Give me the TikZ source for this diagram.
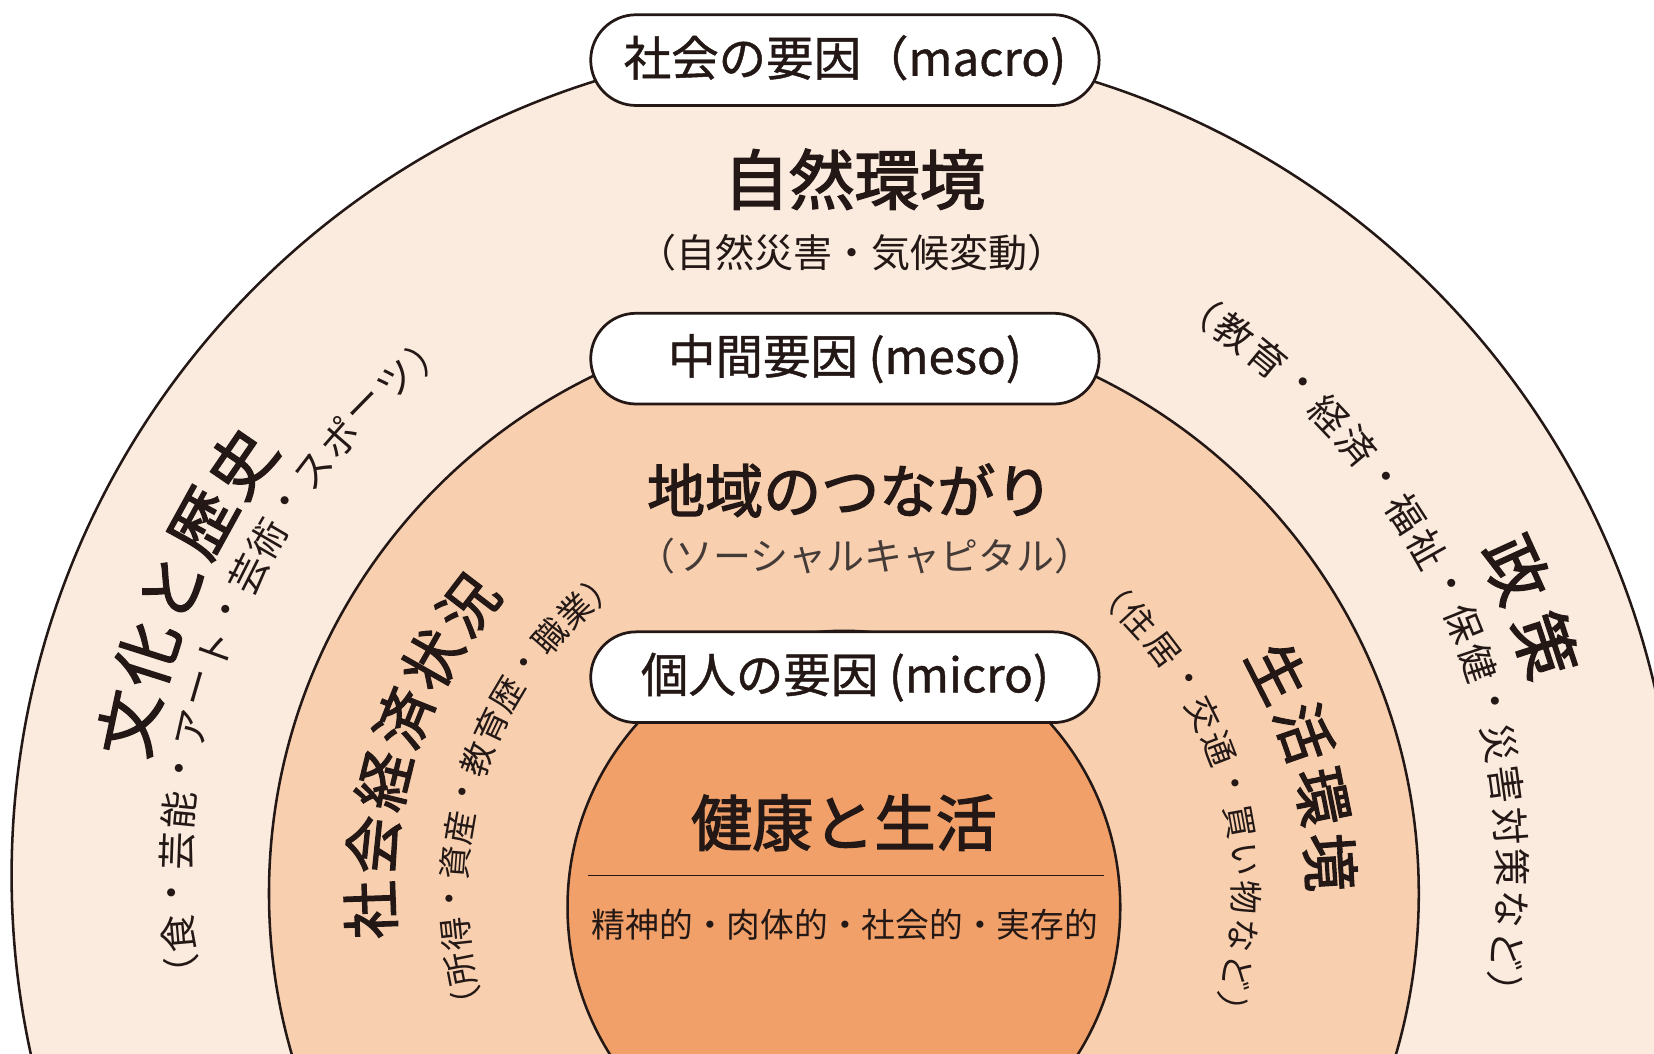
\documentclass[tikz,border=0pt]{standalone}
\usepackage{fontspec}
\newfontfamily\jp{Noto Sans CJK JP}
\newfontfamily\jpm[FakeBold=2.2]{Noto Sans CJK JP}
\newfontfamily\jpp[FakeBold=0.9]{Noto Sans CJK JP}
\definecolor{ink}{HTML}{231815}
\definecolor{ringA}{HTML}{FBEBDE}
\definecolor{ringB}{HTML}{F8D0B0}
\definecolor{ringC}{HTML}{F0A068}
\newcommand\arcword[8]{%
  \foreach \ch [count=\i from 0] in {#8}{%
    \pgfmathsetmacro\ang{#5-\i*(#6)}%
    \node[lbl, font={#7}, rotate=\ang-90] (#1-\i) at ({#2+#4*cos(\ang)},{#3+#4*sin(\ang)}) {\ch};
  }%
}
\begin{document}
\begin{tikzpicture}[x=1pt,y=1pt,
  ring/.style={draw=ink, line width=2.4pt},
  pill/.style={draw=ink, line width=2.6pt, fill=white, rounded corners=43pt,
    minimum width=482pt, minimum height=86pt, inner sep=0pt, text=ink},
  lbl/.style={text=ink, inner sep=0pt},
]
\useasboundingbox (0,0) rectangle (1568,999);
\fill[white] (0,0) rectangle (1568,999);
\begin{scope}
\clip (0,0) rectangle (1568,999);
\draw[ring, fill=ringA] (800,169) circle (789);
\draw[ring, fill=ringB] (800,152) circle (545);
\draw[ring, fill=ringC] (800,139) circle (262);
\end{scope}
\draw[ink, line width=1.3pt] (557,169) -- (1047,169);

\node[pill, font=\jpp\fontsize{45}{45}\selectfont] (macro) at (801,942) {社会の要因（macro)};
\node[pill, font=\jpp\fontsize{45}{45}\selectfont] (meso) at (801,659) {中間要因 (meso)};
\node[pill, font=\jpp\fontsize{45}{45}\selectfont] (micro) at (801,357) {個人の要因 (micro)};

\node[lbl, font=\jpm\fontsize{62}{62}\selectfont] (shizen) at (810,829) {自然環境};
\node[lbl, font=\jp\fontsize{37}{37}\selectfont] (shizensub) at (808,759) {（自然災害・気候変動）};
\node[lbl, font=\jpm\fontsize{55}{55}\selectfont] (chiiki) at (806,534) {地域のつながり};
\node[lbl, font=\jp\fontsize{36}{36}\selectfont, text=ink!85] (social) at (820,472) {（ソーシャルキャピタル）};
\node[lbl, font=\jpm\fontsize{58}{58}\selectfont] (kenko) at (800,219) {健康と生活};
\node[lbl, font=\jp\fontsize{32}{32}\selectfont] (seishin) at (801,122) {精神的・肉体的・社会的・実存的};

\arcword{bunka}{800}{169}{693}{168}{5.6}{\jpm\fontsize{62}{62}\selectfont}{文,化,と,歴,史}
\arcword{bunkasub}{800}{169}{633}{188.5}{3.53}{\jp\fontsize{36}{36}\selectfont}{（,食,・,芸,能,・,ア,ー,ト,・,芸,術,・,ス,ポ,ー,ツ,）}
\arcword{ses}{800}{152}{449}{182}{7.9}{\jpm\fontsize{55}{55}\selectfont}{社,会,経,済,状,況}
\arcword{sessub}{800}{152}{370}{196.5}{5.24}{\jp\fontsize{32}{32}\selectfont}{（,所,得,・,資,産,・,教,育,歴,・,職,業,）}
\arcword{seisaku}{800}{169}{700}{24.5}{6.3}{\jpm\fontsize{62}{62}\selectfont}{政,策}
\arcword{seisakusub}{800}{169}{634}{57.8}{3.57}{\jp\fontsize{36}{36}\selectfont}{（,教,育,・,経,済,・,福,祉,・,保,健,・,災,害,対,策,な,ど,）}
\arcword{kankyo}{800}{152}{462}{27}{7.77}{\jpm\fontsize{55}{55}\selectfont}{生,活,環,境}
\arcword{kankyosub}{800}{152}{381}{48.2}{5.42}{\jp\fontsize{32}{32}\selectfont}{（,住,居,・,交,通,・,買,い,物,な,ど,）}
\end{tikzpicture}
\end{document}
